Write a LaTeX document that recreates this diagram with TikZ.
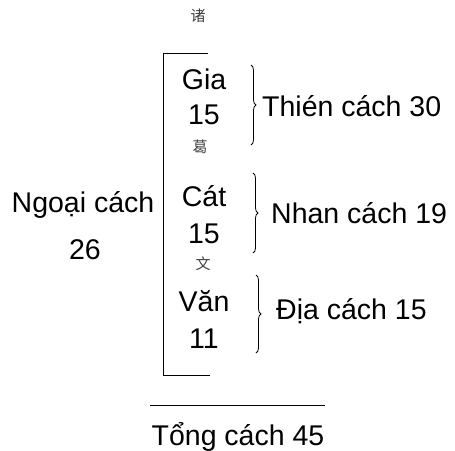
\documentclass[tikz,border=0pt]{standalone}
\usepackage{fontspec}
\setmainfont{Liberation Sans}
\newfontfamily\hanzi{Noto Sans CJK SC}
\usetikzlibrary{decorations.pathreplacing}

\tikzset{
	label/.style = {inner sep = 0pt, font = \fontsize{28.5}{30}\selectfont},
	han/.style = {inner sep = 0pt, text = black!75, font = \hanzi\fontsize{15}{15}\selectfont},
	curly/.style = {line width = 0.8pt, decorate, decoration = {brace, amplitude = 5pt}}
}

\begin{document}
\begin{tikzpicture}[x = 1pt, y = -1pt]

	\useasboundingbox (0, 0) rectangle (455, 450);

	% Name column
	
	\node [han] (zhu) at (198, 16) {诸};
	\node [label] (gia) at (204, 79) {Gia};
	\node [label] (giaN) at (204, 115) {15};
	\node [han] (ge) at (200, 147) {葛};
	\node [label] (cat) at (204, 196) {Cát};
	\node [label] (catN) at (204, 234) {15};
	\node [han] (wen) at (203, 264) {文};
	\node [label] (van) at (204, 301) {Văn};
	\node [label] (vanN) at (204, 339) {11};
	
	% Left bracket
	
	\draw [line width = 0.9pt] (208, 53) -- (163, 53) -- (163, 375) -- (210, 375);
	
	% Right braces
	
	\draw [curly] (251, 65) -- (251, 145);
	\draw [curly] (253, 173) -- (253, 253);
	\draw [curly] (256, 275) -- (256, 353);
	
	% Grid labels
	
	\node [label, anchor = west] (thien) at (262, 106) {Thién cách 30};
	\node [label, anchor = west] (nhan) at (271, 213) {Nhan cách 19};
	\node [label, anchor = west] (dia) at (276, 311) {Địa cách 15};
	\node [label] (ngoai) at (83, 205) {Ngoại cách};
	\node [label] (ngoaiN) at (85, 250) {26};
	
	% Total
	
	\draw [line width = 0.9pt] (150, 405) -- (325, 405);
	\node [label] (tong) at (238, 437) {Tổng cách 45};
	
\end{tikzpicture}
\end{document}
